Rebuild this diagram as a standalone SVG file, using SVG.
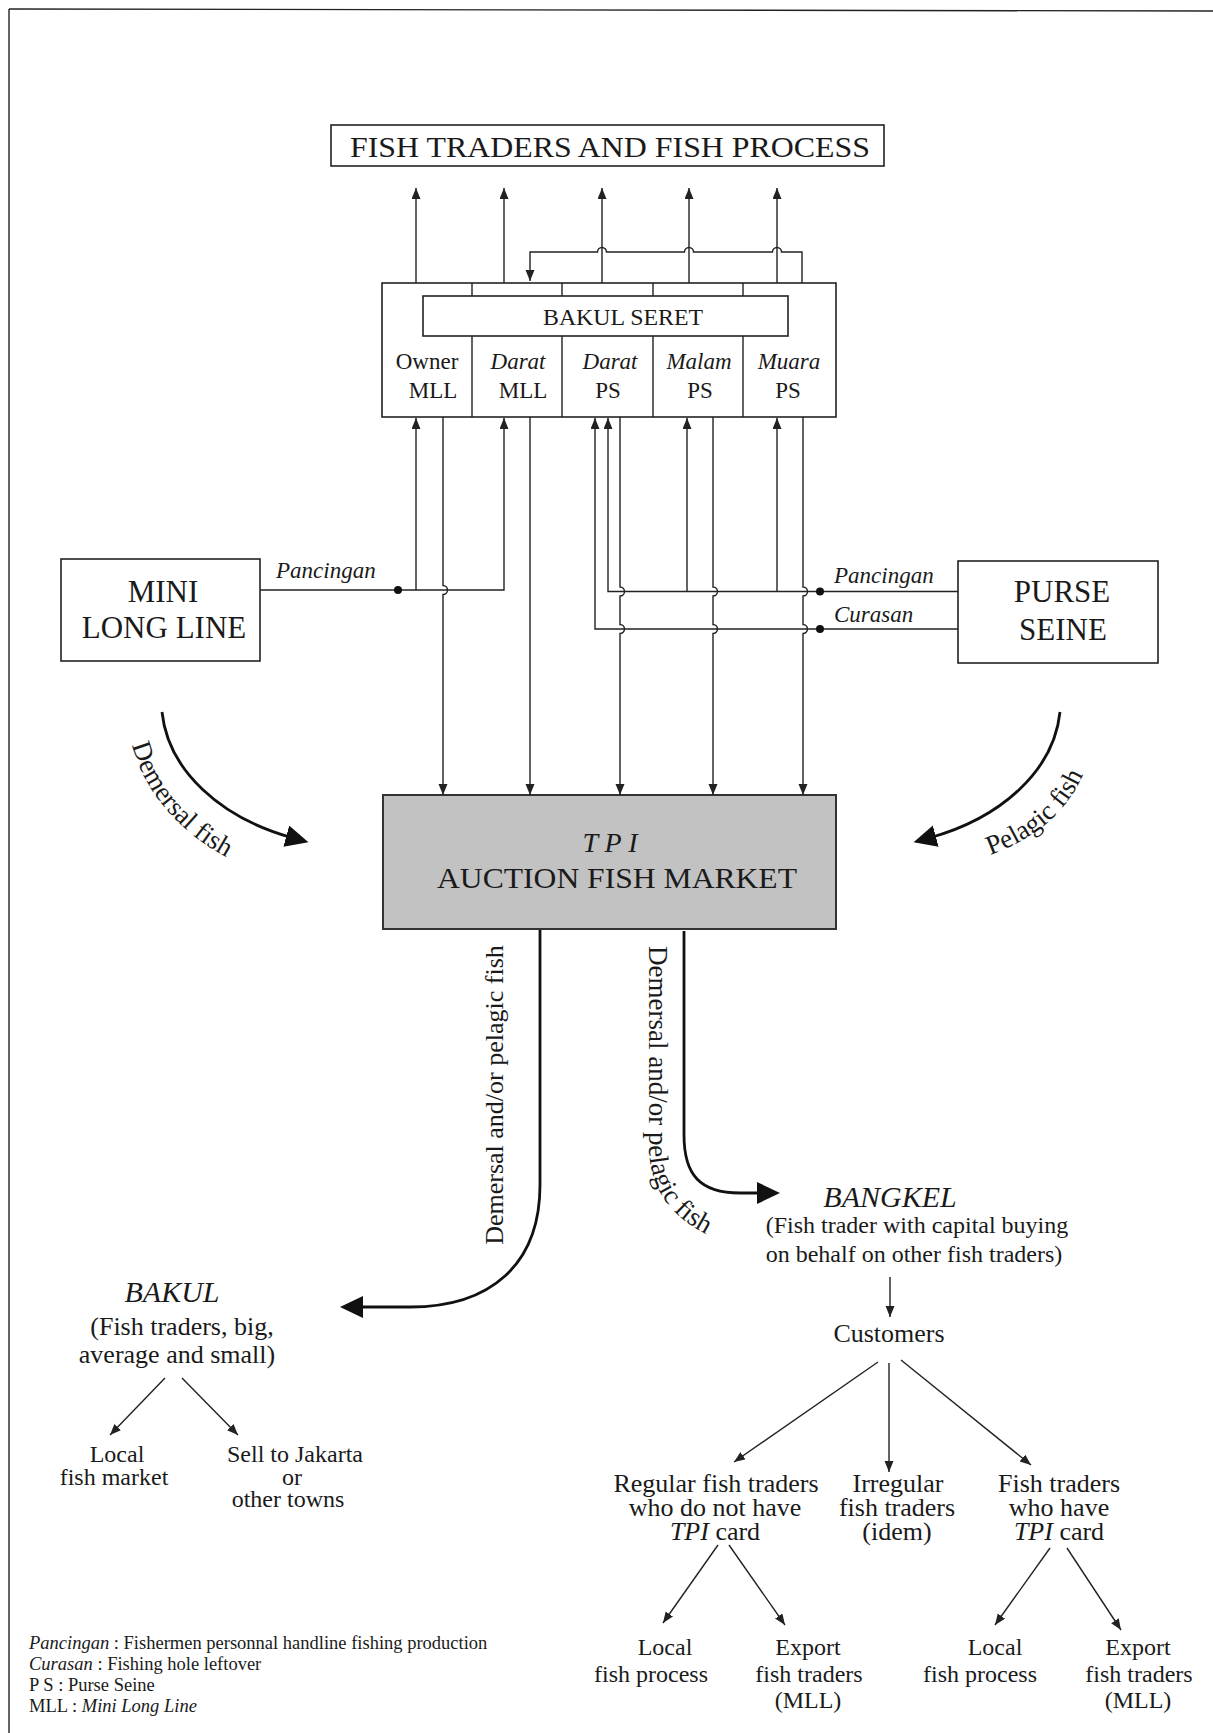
<svg xmlns="http://www.w3.org/2000/svg" width="1213" height="1733" viewBox="0 0 1213 1733">
<style>
.t{font-family:"Liberation Serif","Times New Roman",serif;fill:#1a1a1a}
.i{font-style:italic}
.m{text-anchor:middle}
.ln{fill:none;stroke:#222;stroke-width:1.4}
.th{fill:none;stroke:#111;stroke-width:2.8}
.box{fill:#fff;stroke:#222;stroke-width:1.6}
.f23{font-size:23px}.f24{font-size:24px}.f26{font-size:26px}.f30{font-size:30px}.f31{font-size:31px}
</style>
<defs>
<marker id="ah" markerUnits="userSpaceOnUse" markerWidth="12" markerHeight="10" refX="11" refY="4.5" orient="auto"><path d="M0,0 L11,4.5 L0,9 z" fill="#222"/></marker>
<marker id="big" markerUnits="userSpaceOnUse" markerWidth="26" markerHeight="24" refX="7" refY="11" orient="auto"><path d="M0,0 L23,11 L0,22 z" fill="#111"/></marker>
<path id="pDem" d="M132,745 C146,797 186,840 244,866"/>
<path id="pPel" d="M990,855 C1040,837 1075,806 1090,756"/>
<path id="pRight" d="M649,946 L649,1146 C649,1200 684,1232 748,1250"/>
</defs>

<g id="border">
<path d="M9,9 L1213,11" class="ln" stroke="#555"/>
<path d="M9,9 L9,1733" class="ln" stroke="#555"/>
</g>

<g id="traders">
<rect x="331" y="125" width="553" height="41" class="box"/>
<text x="610" y="157" class="t m f30" textLength="520" lengthAdjust="spacingAndGlyphs">FISH TRADERS AND FISH PROCESS</text>
</g>

<g id="bakul-seret-block">
<rect x="382" y="283" width="454" height="134" class="box"/>
<path d="M472,283 V417 M562,283 V417 M653,283 V417 M743,283 V417" class="ln"/>
<rect x="423" y="296" width="365" height="40" class="box"/>
<text x="623" y="325" class="t m f24" textLength="160" lengthAdjust="spacingAndGlyphs">BAKUL SERET</text>
<text x="427" y="369" class="t m f23">Owner</text>
<text x="433" y="398" class="t m f23">MLL</text>
<text x="518" y="369" class="t m f23 i">Darat</text>
<text x="523" y="398" class="t m f23">MLL</text>
<text x="610" y="369" class="t m f23 i">Darat</text>
<text x="608" y="398" class="t m f23">PS</text>
<text x="699" y="369" class="t m f23 i">Malam</text>
<text x="700" y="398" class="t m f23">PS</text>
<text x="789" y="369" class="t m f23 i">Muara</text>
<text x="788" y="398" class="t m f23">PS</text>
</g>

<g id="mini-long-line">
<rect x="61" y="559" width="199" height="102" class="box"/>
<text x="163" y="602" class="t m f31">MINI</text>
<text x="164" y="638" class="t m f31">LONG LINE</text>
</g>

<g id="purse-seine">
<rect x="958" y="561" width="200" height="102" class="box"/>
<text x="1062" y="602" class="t m f31">PURSE</text>
<text x="1063" y="640" class="t m f31">SEINE</text>
</g>

<g id="tpi">
<rect x="383" y="795" width="453" height="134" fill="#c2c2c2" stroke="#333" stroke-width="2"/>
<text x="610" y="852" class="t m i" font-size="28">T P I</text>
<text x="617" y="888" class="t m f30" textLength="360" lengthAdjust="spacingAndGlyphs">AUCTION FISH MARKET</text>
</g>

<g id="bakul">
<text x="172" y="1302" class="t m f30 i">BAKUL</text>
<text x="182" y="1335" class="t m f26">(Fish traders, big,</text>
<text x="177" y="1363" class="t m f26">average and small)</text>
</g>
<g id="local-fish-market">
<text x="117" y="1462" class="t m f24">Local</text>
<text x="114" y="1485" class="t m f24">fish market</text>
</g>
<g id="sell-jakarta">
<text x="295" y="1462" class="t m f24">Sell to Jakarta</text>
<text x="292" y="1485" class="t m f24">or</text>
<text x="288" y="1507" class="t m f24">other towns</text>
</g>

<g id="bangkel">
<text x="890" y="1207" class="t m f30 i">BANGKEL</text>
<text x="917" y="1233" class="t m f24">(Fish trader with capital buying</text>
<text x="914" y="1262" class="t m f24">on behalf on other fish traders)</text>
</g>
<g id="customers">
<text x="889" y="1342" class="t m f26">Customers</text>
</g>
<g id="regular">
<text x="716" y="1492" class="t m f26">Regular fish traders</text>
<text x="715" y="1516" class="t m f26">who do not have</text>
<text x="715" y="1540" class="t m f26"><tspan class="i">TPI</tspan> card</text>
</g>
<g id="irregular">
<text x="898" y="1492" class="t m f26">Irregular</text>
<text x="897" y="1516" class="t m f26">fish traders</text>
<text x="897" y="1540" class="t m f26">(idem)</text>
</g>
<g id="tpi-card">
<text x="1059" y="1492" class="t m f26">Fish traders</text>
<text x="1059" y="1516" class="t m f26">who have</text>
<text x="1059" y="1540" class="t m f26"><tspan class="i">TPI</tspan> card</text>
</g>
<g id="local-process-1">
<text x="665" y="1655" class="t m f24">Local</text>
<text x="651" y="1682" class="t m f24">fish process</text>
</g>
<g id="export-1">
<text x="808" y="1655" class="t m f24">Export</text>
<text x="809" y="1682" class="t m f24">fish traders</text>
<text x="808" y="1708" class="t m f24">(MLL)</text>
</g>
<g id="local-process-2">
<text x="995" y="1655" class="t m f24">Local</text>
<text x="980" y="1682" class="t m f24">fish process</text>
</g>
<g id="export-2">
<text x="1138" y="1655" class="t m f24">Export</text>
<text x="1139" y="1682" class="t m f24">fish traders</text>
<text x="1138" y="1708" class="t m f24">(MLL)</text>
</g>

<g id="legend" class="t" font-size="18.5">
<text x="29" y="1649"><tspan class="i">Pancingan</tspan> : Fishermen personnal handline fishing production</text>
<text x="29" y="1670"><tspan class="i">Curasan</tspan> : Fishing hole leftover</text>
<text x="29" y="1691">P S : Purse Seine</text>
<text x="29" y="1712">MLL : <tspan class="i">Mini Long Line</tspan></text>
</g>

<g id="connectors">
<path d="M416,283 V188" class="ln" marker-end="url(#ah)"/>
<path d="M504,283 V188" class="ln" marker-end="url(#ah)"/>
<path d="M602,283 V188" class="ln" marker-end="url(#ah)"/>
<path d="M689,283 V188" class="ln" marker-end="url(#ah)"/>
<path d="M777,283 V188" class="ln" marker-end="url(#ah)"/>
<path d="M802,283 V252 H781.5 A4.5,4.5 0 0 0 772.5,252 H693.5 A4.5,4.5 0 0 0 684.5,252 H606.5 A4.5,4.5 0 0 0 597.5,252 H530 V281" class="ln" marker-end="url(#ah)"/>
<path d="M260,590 H504 V418" class="ln" marker-end="url(#ah)"/>
<path d="M416,590 V418" class="ln" marker-end="url(#ah)"/>
<circle cx="398" cy="590" r="4" fill="#111"/>
<text x="276" y="578" class="t i f23">Pancingan</text>
<path d="M958,591.5 H608 V418" class="ln" marker-end="url(#ah)"/>
<path d="M777,591.5 V418" class="ln" marker-end="url(#ah)"/>
<path d="M687,591.5 V418" class="ln" marker-end="url(#ah)"/>
<path d="M958,629 H595 V418" class="ln" marker-end="url(#ah)"/>
<circle cx="820" cy="591.5" r="4" fill="#111"/>
<circle cx="820" cy="629" r="4" fill="#111"/>
<text x="834" y="583" class="t i f23">Pancingan</text>
<text x="834" y="622" class="t i f23">Curasan</text>
<path d="M443,417 V585.5 A4.5,4.5 0 0 1 443,594.5 V795" class="ln" marker-end="url(#ah)"/>
<path d="M530,417 V795" class="ln" marker-end="url(#ah)"/>
<path d="M620,417 V587 A4.5,4.5 0 0 1 620,596 V624.5 A4.5,4.5 0 0 1 620,633.5 V795" class="ln" marker-end="url(#ah)"/>
<path d="M713,417 V587 A4.5,4.5 0 0 1 713,596 V624.5 A4.5,4.5 0 0 1 713,633.5 V795" class="ln" marker-end="url(#ah)"/>
<path d="M803,417 V587 A4.5,4.5 0 0 1 803,596 V624.5 A4.5,4.5 0 0 1 803,633.5 V795" class="ln" marker-end="url(#ah)"/>
<path d="M162,712 C168,770 220,818 293,838" class="th" marker-end="url(#big)"/>
<path d="M1060,712 C1054,770 1002,818 929,838" class="th" marker-end="url(#big)"/>
<text class="t" font-size="27"><textPath href="#pDem">Demersal fish</textPath></text>
<text class="t" font-size="27"><textPath href="#pPel">Pelagic fish</textPath></text>
<path d="M540,930 V1185 C540,1265 490,1307 410,1307 H356" class="th" marker-end="url(#big)"/>
<path d="M684,931 V1135 C684,1175 700,1193 740,1193 H764" class="th" marker-end="url(#big)"/>
<text x="503" y="1095" class="t m f26" transform="rotate(-90 503 1095)">Demersal and/or pelagic fish</text>
<text class="t" font-size="27"><textPath href="#pRight">Demersal and/or pelagic fish</textPath></text>
<path d="M165,1378 L110,1435" class="ln" marker-end="url(#ah)"/>
<path d="M182,1378 L238,1435" class="ln" marker-end="url(#ah)"/>
<path d="M890,1277 V1317" class="ln" marker-end="url(#ah)"/>
<path d="M878,1362 L734,1462" class="ln" marker-end="url(#ah)"/>
<path d="M889,1363 V1472" class="ln" marker-end="url(#ah)"/>
<path d="M901,1360 L1031,1465" class="ln" marker-end="url(#ah)"/>
<path d="M718,1545 L663,1623" class="ln" marker-end="url(#ah)"/>
<path d="M729,1545 L785,1625" class="ln" marker-end="url(#ah)"/>
<path d="M1050,1548 L995,1625" class="ln" marker-end="url(#ah)"/>
<path d="M1067,1548 L1121,1630" class="ln" marker-end="url(#ah)"/>
</g>
</svg>
